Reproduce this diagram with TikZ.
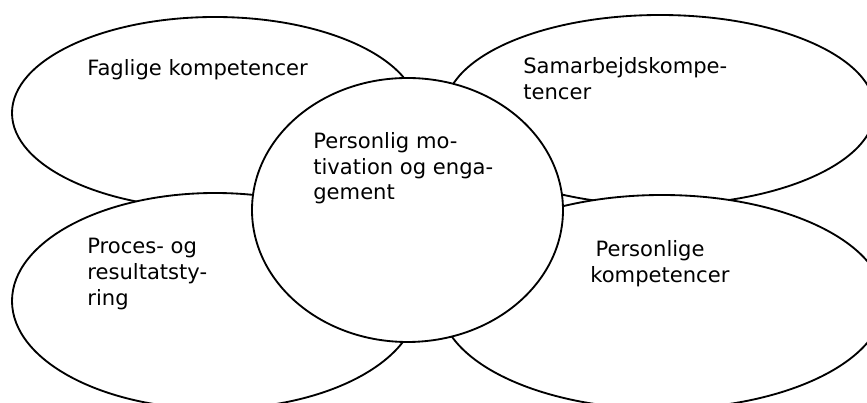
\documentclass[tikz,border=0pt]{standalone}
\usepackage{fontspec}
\setmainfont{DejaVu Sans}
\usepackage{tikz}
\usetikzlibrary{positioning,shapes.geometric}

\begin{document}
\begin{tikzpicture}[
    blob/.style={ellipse, draw=black, fill=white, line width=1.05pt, inner sep=0pt},
    blobtext/.style={anchor=north west, align=left, inner sep=0pt, font=\fontsize{12}{14.6}\selectfont}
  ]
  \useasboundingbox (0,0) rectangle (17.34,8.06);

  % Outer ellipses (bottom ones lie over the top ones)
  \node[blob, minimum width=8.12cm, minimum height=3.84cm] (faglig) at (4.30,5.80) {};
  \node[blob, minimum width=8.60cm, minimum height=3.80cm] (samarb) at (13.20,5.86) {};
  \node[blob, minimum width=8.12cm, minimum height=4.32cm] (proces) at (4.30,2.04) {};
  \node[blob, minimum width=8.88cm, minimum height=4.28cm] (person) at (13.24,2.02) {};

  % Centre
  \node[blob, minimum width=6.22cm, minimum height=5.28cm] (motiv) at (8.15,3.86) {};

  % Texts
  \node[blobtext] (fagligtxt) at (1.74,6.88) {Faglige kompetencer};
  \node[blobtext] (samarbtxt) at (10.46,6.92) {Samarbejdskompe-\\tencer};
  \node[blobtext] (motivtxt) at (6.26,5.42) {Personlig mo-\\tivation og enga-\\gement};
  \node[blobtext] (procestxt) at (1.74,3.30) {Proces- og\\resultatsty-\\ring};
  \node[blobtext] (persontxt) at (11.80,3.26) {\hspace*{3pt}Personlige\\kompetencer};
\end{tikzpicture}
\end{document}
